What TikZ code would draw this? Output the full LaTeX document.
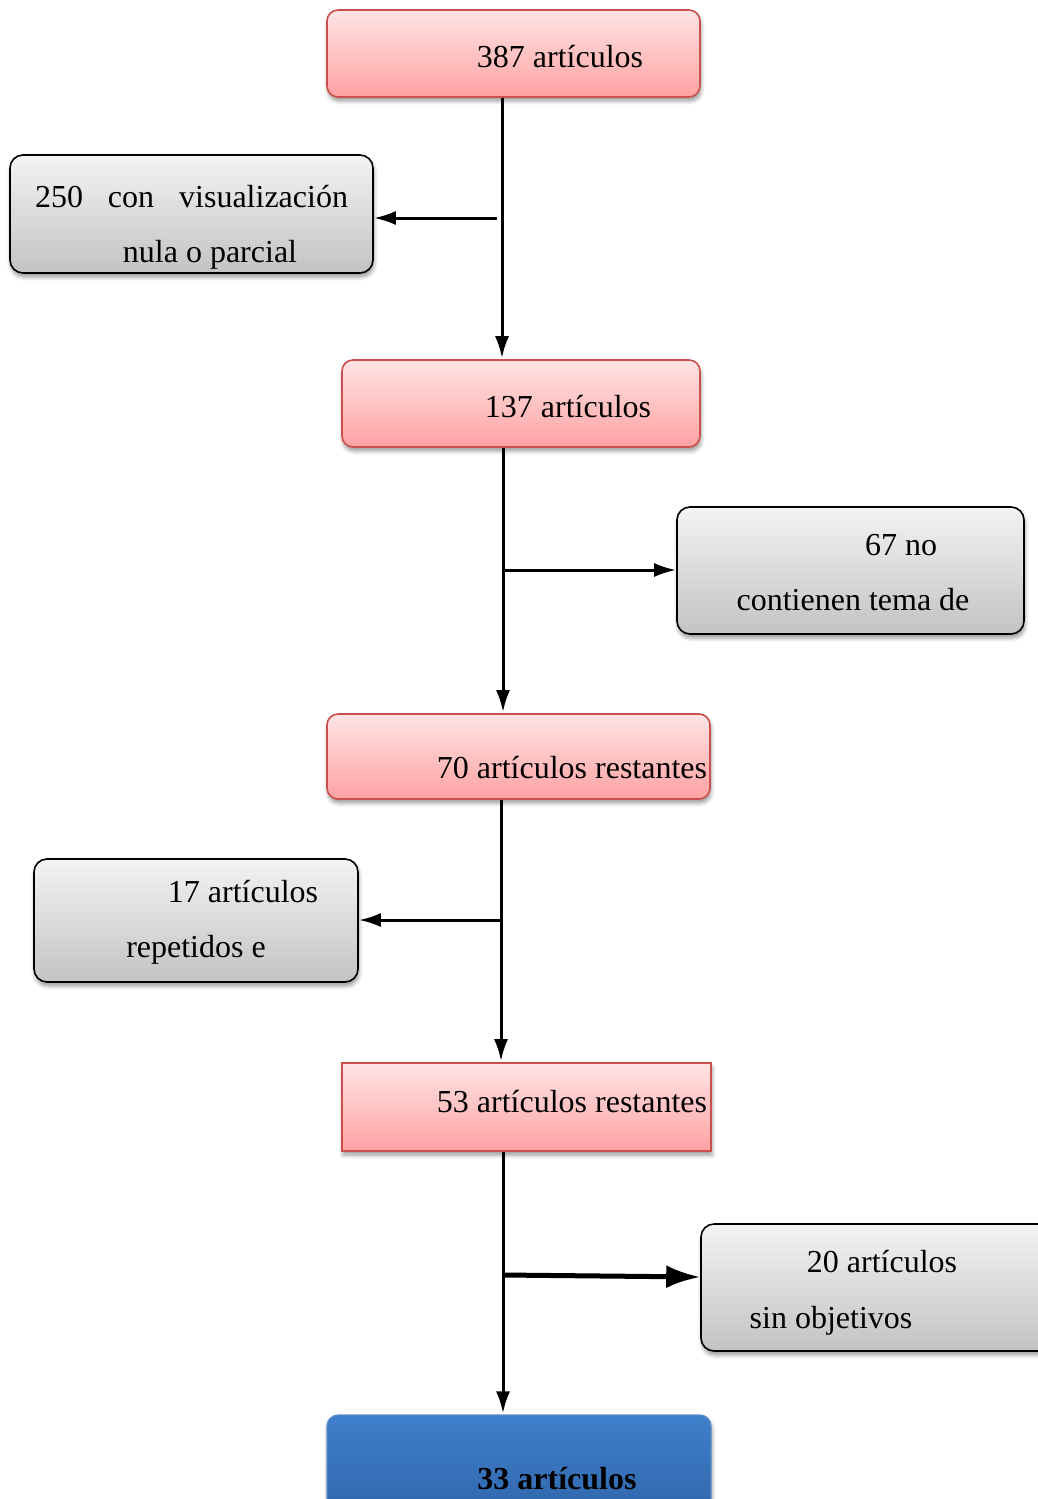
\documentclass[tikz,border=0pt]{standalone}
\usepackage{fontspec}
\setmainfont{Liberation Serif}
\usetikzlibrary{shadows.blur,arrows.meta}
\definecolor{pinkT}{HTML}{FFE4E4}
\definecolor{pinkB}{HTML}{FFA2A2}
\definecolor{pinkD}{HTML}{C9504D}
\definecolor{grayT}{HTML}{F3F3F3}
\definecolor{grayB}{HTML}{C3C3C3}
\definecolor{blueT}{HTML}{3E7FCB}
\definecolor{blueB}{HTML}{2F64A9}
\definecolor{blueD}{HTML}{5A8BC8}
\tikzset{
  x=1pt,y=1pt,
  shade/.style={blur shadow={shadow xshift=1pt,shadow yshift=-4pt,shadow blur radius=4pt,shadow opacity=40}},
  pinkbox/.style={shade,draw=pinkD,line width=1.6pt,top color=pinkT,bottom color=pinkB,rounded corners=11pt,inner sep=0pt},
  graybox/.style={shade,draw=black,line width=1.6pt,top color=grayT,bottom color=grayB,rounded corners=13pt,inner sep=0pt},
  bluebox/.style={shade,draw=blueD,line width=1.2pt,top color=blueT,bottom color=blueB,rounded corners=11pt,inner sep=0pt},
  txt/.style={anchor=base,inner sep=0pt,font=\fontsize{32}{36}\selectfont},
  arr/.style={line width=3pt,-{Latex[length=22pt,width=14pt]}},
  arrbig/.style={line width=5pt,-{Latex[length=34pt,width=23pt]}}
}
\begin{document}
\begin{tikzpicture}
\clip (0,0) rectangle (1038,-1499);
% boxes
\node[pinkbox,minimum width=373pt,minimum height=87pt] (A) at (513.5,-53.5) {};
\node[graybox,minimum width=363pt,minimum height=118pt] (B) at (191.5,-214) {};
\node[pinkbox,minimum width=358pt,minimum height=87pt] (C) at (521,-403.5) {};
\node[graybox,minimum width=347pt,minimum height=127pt] (D) at (850.5,-570.5) {};
\node[pinkbox,minimum width=383pt,minimum height=85pt] (E) at (518.5,-756.5) {};
\node[graybox,minimum width=324pt,minimum height=123pt] (F) at (196,-920.5) {};
\node[pinkbox,rounded corners=0pt,minimum width=369pt,minimum height=88pt] (G) at (526.5,-1107) {};
\node[graybox,minimum width=350pt,minimum height=127pt] (H) at (876,-1287.5) {};
\node[bluebox,minimum width=384pt,minimum height=110pt] (I) at (519,-1470) {};
% texts
\node[txt] (tA) at (560,-67) {387 artículos};
\node[txt] (tB1) at (191.5,-207) {\makebox[313pt][s]{250 con visualización}};
\node[txt] (tB2) at (210,-262) {nula o parcial};
\node[txt] (tC) at (568,-417) {137 artículos};
\node[txt] (tD1) at (901,-555) {67 no};
\node[txt] (tD2) at (853,-610) {contienen tema de};
\node[txt] (tE) at (572,-778) {70 artículos restantes};
\node[txt] (tF1) at (243,-902) {17 artículos};
\node[txt] (tF2) at (196,-957) {repetidos e};
\node[txt] (tG) at (572,-1112) {53 artículos restantes};
\node[txt] (tH1) at (882,-1272) {20 artículos};
\node[txt] (tH2) at (831,-1328) {sin objetivos};
\node[txt,font=\fontsize{32}{36}\selectfont\bfseries] (tI) at (557,-1489) {33 artículos};
% trunk coordinates
\coordinate (s1) at (502,-218);
\coordinate (s2) at (503,-570);
\coordinate (s3) at (501,-920);
\coordinate (s4) at (503,-1275);
% connectors
\draw[arr] (A.south -| s1) -- ([yshift=1pt]C.north -| s1);
\draw[arr] ([xshift=-5pt]s1) -- (B.east |- s1);
\draw[arr] (C.south -| s2) -- ([yshift=1pt]E.north -| s2);
\draw[arr] (s2) -- (D.west |- s2);
\draw[arr] (E.south -| s3) -- ([yshift=1pt]G.north -| s3);
\draw[arr] (s3) -- (F.east |- s3);
\draw[arr] (G.south -| s4) -- ([yshift=1pt]I.north -| s4);
\draw[arrbig] (s4) -- ([yshift=-2pt]H.west |- s4);
\end{tikzpicture}
\end{document}
